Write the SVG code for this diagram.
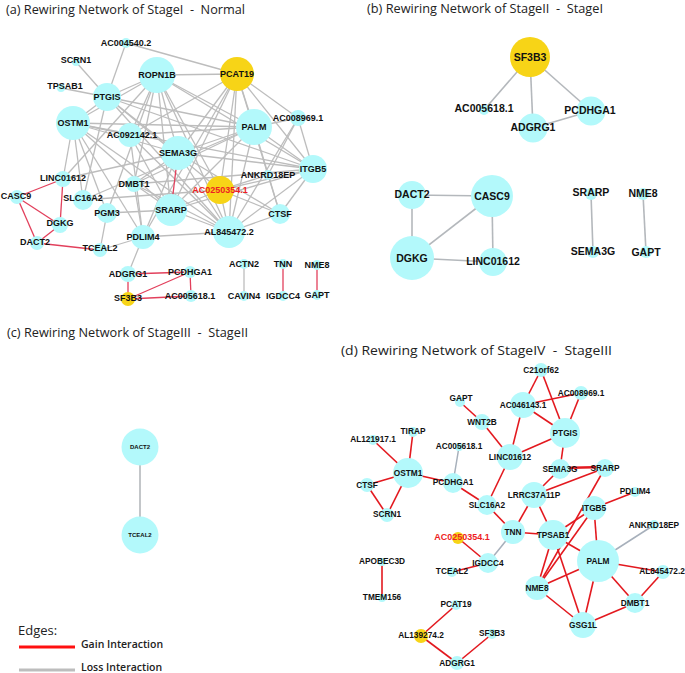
<svg xmlns="http://www.w3.org/2000/svg" width="685" height="673" viewBox="0 0 685 673">
<style>
.bg{fill:#ffffff}
.n{fill:#b3f9fb;stroke:none}
.y{fill:#f7d417;stroke:none}
.g{stroke:#bdbdbd;stroke-width:1.3;fill:none}
.gb{stroke:#b4b8bc;stroke-width:1.6;fill:none}
.gd{stroke:#a7b0bb;stroke-width:1.5;fill:none}
.r{stroke:#e2405c;stroke-width:1.3;fill:none}
.rd{stroke:#e3191f;stroke-width:1.6;fill:none}
text{font-family:"Liberation Sans",Arial,sans-serif;font-weight:bold;fill:#111;text-anchor:middle}
.la{font-size:9px}
.lb{font-size:10.5px}
.lc{font-size:6px}
.ld{font-size:8.3px}
.red{fill:#ee1c24}
.title{font-family:"Open Sans","Noto Sans",sans-serif;font-weight:normal;font-size:12.5px;text-anchor:start;fill:#222}
.leg{font-family:"Open Sans","Noto Sans",sans-serif;text-anchor:start;fill:#222}
</style>
<rect class="bg" x="0" y="0" width="685" height="673"/>

<g id="titles">
<text class="title" x="6" y="14" xml:space="preserve" textLength="239" lengthAdjust="spacingAndGlyphs">(a) Rewiring Network of StageI  -  Normal</text>
<text class="title" x="367" y="13" xml:space="preserve" textLength="236" lengthAdjust="spacingAndGlyphs">(b) Rewiring Network of StageII  -  StageI</text>
<text class="title" x="7" y="337" xml:space="preserve" textLength="241" lengthAdjust="spacingAndGlyphs">(c) Rewiring Network of StageIII  -  StageII</text>
<text class="title" x="341" y="355" xml:space="preserve" textLength="271" lengthAdjust="spacingAndGlyphs">(d) Rewiring Network of StageIV  -  StageIII</text>
</g>

<!-- Panel (a) connectors -->
<g id="edges-a">
<line class="g" x1="126" y1="43" x2="107" y2="97"/>
<line class="g" x1="126" y1="43" x2="237" y2="74"/>
<line class="g" x1="76" y1="62" x2="107" y2="97"/>
<line class="g" x1="61" y1="88" x2="107" y2="97"/>
<line class="g" x1="107" y1="97" x2="157" y2="75"/>
<line class="g" x1="157" y1="75" x2="237" y2="74"/>
<line class="g" x1="73" y1="123" x2="107" y2="97"/>
<line class="g" x1="73" y1="123" x2="157" y2="75"/>
<line class="g" x1="73" y1="123" x2="254" y2="127"/>
<line class="g" x1="73" y1="123" x2="313" y2="169"/>
<line class="g" x1="73" y1="123" x2="178" y2="153"/>
<line class="g" x1="73" y1="123" x2="171" y2="210"/>
<line class="g" x1="73" y1="123" x2="229" y2="232"/>
<line class="g" x1="73" y1="123" x2="63" y2="179"/>
<line class="g" x1="73" y1="123" x2="83" y2="200"/>
<line class="g" x1="73" y1="123" x2="143" y2="237"/>
<line class="g" x1="73" y1="123" x2="130" y2="135"/>
<line class="g" x1="73" y1="123" x2="107" y2="213"/>
<line class="g" x1="107" y1="97" x2="254" y2="127"/>
<line class="g" x1="107" y1="97" x2="313" y2="169"/>
<line class="g" x1="107" y1="97" x2="178" y2="153"/>
<line class="g" x1="107" y1="97" x2="220" y2="190"/>
<line class="g" x1="107" y1="97" x2="229" y2="232"/>
<line class="g" x1="107" y1="97" x2="83" y2="200"/>
<line class="g" x1="157" y1="75" x2="313" y2="169"/>
<line class="g" x1="157" y1="75" x2="178" y2="153"/>
<line class="g" x1="157" y1="75" x2="171" y2="210"/>
<line class="g" x1="157" y1="75" x2="229" y2="232"/>
<line class="g" x1="157" y1="75" x2="254" y2="127"/>
<line class="g" x1="157" y1="75" x2="134" y2="184"/>
<line class="g" x1="157" y1="75" x2="107" y2="213"/>
<line class="g" x1="157" y1="75" x2="220" y2="190"/>
<line class="g" x1="157" y1="75" x2="63" y2="179"/>
<line class="g" x1="157" y1="75" x2="130" y2="135"/>
<line class="g" x1="237" y1="74" x2="254" y2="127"/>
<line class="g" x1="237" y1="74" x2="313" y2="169"/>
<line class="g" x1="237" y1="74" x2="178" y2="153"/>
<line class="g" x1="237" y1="74" x2="171" y2="210"/>
<line class="g" x1="237" y1="74" x2="229" y2="232"/>
<line class="g" x1="237" y1="74" x2="220" y2="190"/>
<line class="g" x1="237" y1="74" x2="143" y2="237"/>
<line class="g" x1="237" y1="74" x2="130" y2="135"/>
<line class="g" x1="237" y1="74" x2="268" y2="175"/>
<line class="g" x1="237" y1="74" x2="298" y2="118"/>
<line class="g" x1="254" y1="127" x2="298" y2="118"/>
<line class="g" x1="254" y1="127" x2="313" y2="169"/>
<line class="g" x1="254" y1="127" x2="178" y2="153"/>
<line class="g" x1="254" y1="127" x2="229" y2="232"/>
<line class="g" x1="254" y1="127" x2="280" y2="214"/>
<line class="g" x1="254" y1="127" x2="83" y2="200"/>
<line class="g" x1="254" y1="127" x2="130" y2="135"/>
<line class="g" x1="254" y1="127" x2="171" y2="210"/>
<line class="g" x1="254" y1="127" x2="134" y2="184"/>
<line class="g" x1="298" y1="118" x2="313" y2="169"/>
<line class="g" x1="298" y1="118" x2="229" y2="232"/>
<line class="g" x1="298" y1="118" x2="268" y2="175"/>
<line class="g" x1="313" y1="169" x2="178" y2="153"/>
<line class="g" x1="313" y1="169" x2="280" y2="214"/>
<line class="g" x1="313" y1="169" x2="229" y2="232"/>
<line class="g" x1="313" y1="169" x2="134" y2="184"/>
<line class="g" x1="313" y1="169" x2="220" y2="190"/>
<line class="g" x1="313" y1="169" x2="171" y2="210"/>
<line class="g" x1="178" y1="153" x2="229" y2="232"/>
<line class="g" x1="178" y1="153" x2="143" y2="237"/>
<line class="g" x1="178" y1="153" x2="63" y2="179"/>
<line class="g" x1="178" y1="153" x2="134" y2="184"/>
<line class="g" x1="178" y1="153" x2="280" y2="214"/>
<line class="g" x1="220" y1="190" x2="229" y2="232"/>
<line class="g" x1="220" y1="190" x2="171" y2="210"/>
<line class="g" x1="220" y1="190" x2="83" y2="200"/>
<line class="g" x1="220" y1="190" x2="268" y2="175"/>
<line class="g" x1="220" y1="190" x2="280" y2="214"/>
<line class="g" x1="229" y1="232" x2="171" y2="210"/>
<line class="g" x1="229" y1="232" x2="134" y2="184"/>
<line class="g" x1="229" y1="232" x2="143" y2="237"/>
<line class="g" x1="229" y1="232" x2="280" y2="214"/>
<line class="g" x1="130" y1="135" x2="143" y2="237"/>
<line class="g" x1="130" y1="135" x2="171" y2="210"/>
<line class="g" x1="130" y1="135" x2="229" y2="232"/>
<line class="g" x1="134" y1="184" x2="143" y2="237"/>
<line class="g" x1="134" y1="184" x2="171" y2="210"/>
<line class="g" x1="107" y1="213" x2="171" y2="210"/>
<line class="g" x1="107" y1="213" x2="100" y2="250"/>
<line class="g" x1="143" y1="237" x2="100" y2="250"/>
<line class="g" x1="143" y1="237" x2="128" y2="274"/>
<line class="g" x1="268" y1="175" x2="280" y2="214"/>
<line class="g" x1="244" y1="264" x2="244" y2="296"/>
<line class="r" x1="17" y1="197" x2="63" y2="179"/>
<line class="r" x1="17" y1="197" x2="60" y2="225"/>
<line class="r" x1="17" y1="197" x2="37" y2="243"/>
<line class="r" x1="37" y1="243" x2="60" y2="225"/>
<line class="r" x1="63" y1="179" x2="60" y2="225"/>
<line class="r" x1="37" y1="243" x2="100" y2="250"/>
<line class="r" x1="178" y1="153" x2="171" y2="210"/>
<line class="r" x1="128" y1="274" x2="128" y2="299"/>
<line class="r" x1="128" y1="274" x2="190" y2="272"/>
<line class="r" x1="128" y1="299" x2="190" y2="272"/>
<line class="r" x1="128" y1="299" x2="191" y2="296"/>
<line class="r" x1="190" y1="272" x2="191" y2="296"/>
<line class="r" x1="283" y1="264" x2="283" y2="296"/>
<line class="r" x1="317" y1="265" x2="317" y2="295"/>
</g>

<!-- Panel (a) nodes -->
<g id="a-AC004540.2"><circle class="n" cx="126" cy="43" r="5"/><text class="la" x="126" y="46">AC004540.2</text></g>
<g id="a-SCRN1"><circle class="n" cx="76" cy="62" r="4"/><text class="la" x="76" y="63">SCRN1</text></g>
<g id="a-TPSAB1"><circle class="n" cx="61" cy="88" r="4"/><text class="la" x="65" y="89">TPSAB1</text></g>
<g id="a-ROPN1B"><circle class="n" cx="157" cy="75" r="18"/><text class="la" x="157" y="78">ROPN1B</text></g>
<g id="a-PTGIS"><circle class="n" cx="107" cy="97" r="14"/><text class="la" x="107" y="100">PTGIS</text></g>
<g id="a-OSTM1"><circle class="n" cx="73" cy="123" r="17"/><text class="la" x="73" y="126">OSTM1</text></g>
<g id="a-PCAT19"><circle class="y" cx="237" cy="74" r="17"/><text class="la" x="237" y="77">PCAT19</text></g>
<g id="a-PALM"><circle class="n" cx="254" cy="127" r="18"/><text class="la" x="254" y="130">PALM</text></g>
<g id="a-AC092142.1"><circle class="n" cx="130" cy="135" r="12"/><text class="la" x="132" y="138">AC092142.1</text></g>
<g id="a-AC008969.1"><circle class="n" cx="298" cy="118" r="8"/><text class="la" x="298" y="121">AC008969.1</text></g>
<g id="a-SEMA3G"><circle class="n" cx="178" cy="153" r="17"/><text class="la" x="178" y="156">SEMA3G</text></g>
<g id="a-ITGB5"><circle class="n" cx="313" cy="169" r="14"/><text class="la" x="313" y="172">ITGB5</text></g>
<g id="a-ANKRD18EP"><circle class="n" cx="268" cy="175" r="5"/><text class="la" x="268" y="178">ANKRD18EP</text></g>
<g id="a-AC0250354.1"><circle class="y" cx="220" cy="190" r="14"/><text class="la red" x="220" y="193">AC0250354.1</text></g>
<g id="a-CTSF"><circle class="n" cx="280" cy="214" r="10"/><text class="la" x="280" y="217">CTSF</text></g>
<g id="a-AL845472.2"><circle class="n" cx="229" cy="232" r="16"/><text class="la" x="229" y="235">AL845472.2</text></g>
<g id="a-SRARP"><circle class="n" cx="171" cy="210" r="16"/><text class="la" x="171" y="213">SRARP</text></g>
<g id="a-DMBT1"><circle class="n" cx="134" cy="184" r="8"/><text class="la" x="134" y="187">DMBT1</text></g>
<g id="a-LINC01612"><circle class="n" cx="63" cy="179" r="8"/><text class="la" x="63" y="181">LINC01612</text></g>
<g id="a-SLC16A2"><circle class="n" cx="83" cy="200" r="10"/><text class="la" x="83" y="201">SLC16A2</text></g>
<g id="a-PGM3"><circle class="n" cx="107" cy="213" r="10"/><text class="la" x="107" y="216">PGM3</text></g>
<g id="a-PDLIM4"><circle class="n" cx="143" cy="237" r="12"/><text class="la" x="143" y="240">PDLIM4</text></g>
<g id="a-TCEAL2"><circle class="n" cx="100" cy="250" r="7"/><text class="la" x="100" y="251">TCEAL2</text></g>
<g id="a-DGKG"><circle class="n" cx="60" cy="225" r="8"/><text class="la" x="60" y="226">DGKG</text></g>
<g id="a-CASC9"><circle class="n" cx="17" cy="197" r="7"/><text class="la" x="16" y="199">CASC9</text></g>
<g id="a-DACT2"><circle class="n" cx="37" cy="243" r="7"/><text class="la" x="35" y="245">DACT2</text></g>
<g id="a-ADGRG1"><circle class="n" cx="128" cy="274" r="8"/><text class="la" x="128" y="277">ADGRG1</text></g>
<g id="a-SF3B3"><circle class="y" cx="128" cy="299" r="7"/><text class="la" x="128" y="301">SF3B3</text></g>
<g id="a-PCDHGA1"><circle class="n" cx="190" cy="272" r="6"/><text class="la" x="190" y="275">PCDHGA1</text></g>
<g id="a-AC005618.1"><circle class="n" cx="191" cy="296" r="6"/><text class="la" x="190" y="299">AC005618.1</text></g>
<g id="a-ACTN2"><circle class="n" cx="244" cy="264" r="5"/><text class="la" x="244" y="267">ACTN2</text></g>
<g id="a-CAVIN4"><circle class="n" cx="244" cy="296" r="5"/><text class="la" x="244" y="299">CAVIN4</text></g>
<g id="a-TNN"><circle class="n" cx="283" cy="264" r="5"/><text class="la" x="283" y="267">TNN</text></g>
<g id="a-IGDCC4"><circle class="n" cx="283" cy="296" r="5"/><text class="la" x="283" y="299">IGDCC4</text></g>
<g id="a-NME8"><circle class="n" cx="317" cy="265" r="5"/><text class="la" x="317" y="268">NME8</text></g>
<g id="a-GAPT"><circle class="n" cx="317" cy="295" r="5"/><text class="la" x="317" y="298">GAPT</text></g>

<!-- Panel (b) connectors -->
<g id="edges-b">
<line class="gb" x1="530" y1="57" x2="484" y2="110"/>
<line class="gb" x1="530" y1="57" x2="533" y2="128"/>
<line class="gb" x1="530" y1="57" x2="591" y2="111"/>
<line class="gb" x1="533" y1="128" x2="591" y2="111"/>
<line class="gb" x1="412" y1="195" x2="492" y2="196"/>
<line class="gb" x1="412" y1="195" x2="412" y2="258"/>
<line class="gb" x1="492" y1="196" x2="412" y2="258"/>
<line class="gb" x1="492" y1="196" x2="493" y2="262"/>
<line class="gb" x1="412" y1="258" x2="493" y2="262"/>
<line class="gb" x1="591" y1="194" x2="593" y2="252"/>
<line class="gb" x1="643" y1="194" x2="646" y2="252"/>
</g>
<g id="b-SF3B3"><circle class="y" cx="530" cy="57" r="20"/><text class="lb" x="530" y="61">SF3B3</text></g>
<g id="b-AC005618.1"><circle class="n" cx="484" cy="110" r="5"/><text class="lb" x="484" y="112">AC005618.1</text></g>
<g id="b-ADGRG1"><circle class="n" cx="533" cy="128" r="14.5"/><text class="lb" x="533" y="131">ADGRG1</text></g>
<g id="b-PCDHGA1"><circle class="n" cx="591" cy="111" r="14.5"/><text class="lb" x="590" y="114">PCDHGA1</text></g>
<g id="b-DACT2"><circle class="n" cx="412" cy="195" r="14"/><text class="lb" x="412" y="198">DACT2</text></g>
<g id="b-CASC9"><circle class="n" cx="492" cy="196" r="21"/><text class="lb" x="492" y="200">CASC9</text></g>
<g id="b-DGKG"><circle class="n" cx="412" cy="258" r="22"/><text class="lb" x="412" y="262">DGKG</text></g>
<g id="b-LINC01612"><circle class="n" cx="493" cy="262" r="14"/><text class="lb" x="493" y="265">LINC01612</text></g>
<g id="b-SRARP"><circle class="n" cx="591" cy="194" r="6"/><text class="lb" x="591" y="196">SRARP</text></g>
<g id="b-SEMA3G"><circle class="n" cx="593" cy="252" r="6"/><text class="lb" x="593" y="255">SEMA3G</text></g>
<g id="b-NME8"><circle class="n" cx="643" cy="194" r="6"/><text class="lb" x="643" y="197">NME8</text></g>
<g id="b-GAPT"><circle class="n" cx="646" cy="252" r="6"/><text class="lb" x="646" y="256">GAPT</text></g>

<!-- Panel (c) -->
<g id="edges-c">
<line class="gb" x1="140" y1="447" x2="140" y2="535"/>
</g>
<g id="c-DACT2"><circle class="n" cx="140" cy="447" r="18.5"/><text class="lc" x="140" y="449">DACT2</text></g>
<g id="c-TCEAL2"><circle class="n" cx="140" cy="535" r="18.5"/><text class="lc" x="140" y="537">TCEAL2</text></g>

<!-- Panel (d) connectors -->
<g id="edges-d">
<line class="rd" x1="460" y1="402" x2="482" y2="422"/>
<line class="rd" x1="482" y1="422" x2="510" y2="457"/>
<line class="rd" x1="523" y1="405" x2="510" y2="457"/>
<line class="rd" x1="523" y1="405" x2="541" y2="370"/>
<line class="rd" x1="523" y1="405" x2="581" y2="393"/>
<line class="rd" x1="523" y1="405" x2="565" y2="433"/>
<line class="rd" x1="541" y1="370" x2="565" y2="433"/>
<line class="rd" x1="581" y1="393" x2="565" y2="433"/>
<line class="rd" x1="565" y1="433" x2="510" y2="457"/>
<line class="rd" x1="565" y1="433" x2="560" y2="469"/>
<line class="rd" x1="560" y1="468" x2="605" y2="467" style="stroke-width:2.6"/>
<line class="rd" x1="560" y1="469" x2="534" y2="495"/>
<line class="rd" x1="605" y1="468" x2="534" y2="495"/>
<line class="rd" x1="605" y1="468" x2="537" y2="588"/>
<line class="rd" x1="510" y1="457" x2="487" y2="505"/>
<line class="rd" x1="453" y1="483" x2="487" y2="505"/>
<line class="rd" x1="408" y1="473" x2="453" y2="483"/>
<line class="rd" x1="408" y1="473" x2="413" y2="432"/>
<line class="rd" x1="408" y1="473" x2="373" y2="440"/>
<line class="rd" x1="408" y1="473" x2="367" y2="485"/>
<line class="rd" x1="408" y1="473" x2="387" y2="515"/>
<line class="rd" x1="367" y1="485" x2="387" y2="515"/>
<line class="rd" x1="487" y1="505" x2="513" y2="532"/>
<line class="rd" x1="458" y1="538" x2="488" y2="563"/>
<line class="rd" x1="452" y1="572" x2="488" y2="563"/>
<line class="rd" x1="513" y1="532" x2="534" y2="495"/>
<line class="rd" x1="513" y1="532" x2="553" y2="535"/>
<line class="rd" x1="534" y1="495" x2="553" y2="535"/>
<line class="rd" x1="553" y1="535" x2="594" y2="508"/>
<line class="rd" x1="594" y1="508" x2="537" y2="588"/>
<line class="rd" x1="594" y1="508" x2="635" y2="492"/>
<line class="rd" x1="553" y1="535" x2="598" y2="561"/>
<line class="rd" x1="553" y1="535" x2="537" y2="588"/>
<line class="rd" x1="553" y1="535" x2="583" y2="625"/>
<line class="rd" x1="598" y1="561" x2="537" y2="588"/>
<line class="rd" x1="598" y1="561" x2="583" y2="625"/>
<line class="rd" x1="598" y1="561" x2="594" y2="508"/>
<line class="rd" x1="598" y1="561" x2="663" y2="572"/>
<line class="rd" x1="598" y1="561" x2="635" y2="603"/>
<line class="rd" x1="663" y1="572" x2="635" y2="603"/>
<line class="rd" x1="635" y1="603" x2="583" y2="625"/>
<line class="rd" x1="537" y1="588" x2="583" y2="625"/>
<line class="rd" x1="382" y1="562" x2="382" y2="598"/>
<line class="rd" x1="456" y1="605" x2="421" y2="636"/>
<line class="rd" x1="421" y1="636" x2="457" y2="663"/>
<line class="rd" x1="457" y1="663" x2="492" y2="634"/>
<line class="gd" x1="459" y1="447" x2="453" y2="483"/>
<line class="gd" x1="513" y1="532" x2="488" y2="563"/>
<line class="gd" x1="598" y1="561" x2="654" y2="525"/>
</g>

<!-- Panel (d) nodes -->
<g id="d-GAPT"><circle class="n" cx="460" cy="402" r="5"/><text class="ld" x="461" y="401">GAPT</text></g>
<g id="d-WNT2B"><circle class="n" cx="482" cy="422" r="8"/><text class="ld" x="482" y="425">WNT2B</text></g>
<g id="d-AC046143.1"><circle class="n" cx="523" cy="405" r="13"/><text class="ld" x="523" y="408">AC046143.1</text></g>
<g id="d-C21orf62"><circle class="n" cx="541" cy="370" r="7"/><text class="ld" x="541" y="373">C21orf62</text></g>
<g id="d-AC008969.1"><circle class="n" cx="581" cy="393" r="7"/><text class="ld" x="581" y="396">AC008969.1</text></g>
<g id="d-PTGIS"><circle class="n" cx="565" cy="433" r="15"/><text class="ld" x="565" y="436">PTGIS</text></g>
<g id="d-LINC01612"><circle class="n" cx="510" cy="457" r="13"/><text class="ld" x="510" y="460">LINC01612</text></g>
<g id="d-SEMA3G"><circle class="n" cx="560" cy="469" r="10"/><text class="ld" x="560" y="472">SEMA3G</text></g>
<g id="d-SRARP"><circle class="n" cx="605" cy="468" r="9"/><text class="ld" x="605" y="471">SRARP</text></g>
<g id="d-LRRC37A11P"><circle class="n" cx="534" cy="495" r="13"/><text class="ld" x="534" y="498">LRRC37A11P</text></g>
<g id="d-ITGB5"><circle class="n" cx="594" cy="508" r="12"/><text class="ld" x="594" y="511">ITGB5</text></g>
<g id="d-PDLIM4"><circle class="n" cx="635" cy="492" r="5"/><text class="ld" x="635" y="494">PDLIM4</text></g>
<g id="d-ANKRD18EP"><circle class="n" cx="654" cy="525" r="5"/><text class="ld" x="654" y="528">ANKRD18EP</text></g>
<g id="d-TNN"><circle class="n" cx="513" cy="532" r="12"/><text class="ld" x="513" y="535">TNN</text></g>
<g id="d-TPSAB1"><circle class="n" cx="553" cy="535" r="15"/><text class="ld" x="553" y="538">TPSAB1</text></g>
<g id="d-PALM"><circle class="n" cx="598" cy="561" r="21"/><text class="ld" x="598" y="564">PALM</text></g>
<g id="d-NME8"><circle class="n" cx="537" cy="588" r="12"/><text class="ld" x="537" y="591">NME8</text></g>
<g id="d-AL845472.2"><circle class="n" cx="663" cy="572" r="7"/><text class="ld" x="662" y="574">AL845472.2</text></g>
<g id="d-DMBT1"><circle class="n" cx="635" cy="603" r="10"/><text class="ld" x="635" y="606">DMBT1</text></g>
<g id="d-GSG1L"><circle class="n" cx="583" cy="625" r="13"/><text class="ld" x="583" y="628">GSG1L</text></g>
<g id="d-SLC16A2"><circle class="n" cx="487" cy="505" r="10"/><text class="ld" x="487" y="508">SLC16A2</text></g>
<g id="d-IGDCC4"><circle class="n" cx="488" cy="563" r="10"/><text class="ld" x="488" y="566">IGDCC4</text></g>
<g id="d-TCEAL2"><circle class="n" cx="452" cy="572" r="5"/><text class="ld" x="452" y="574">TCEAL2</text></g>
<g id="d-AC0250354.1"><circle class="y" cx="458" cy="538" r="6"/><text class="la red" x="462" y="540">AC0250354.1</text></g>
<g id="d-APOBEC3D"><circle class="n" cx="382" cy="562" r="4"/><text class="ld" x="382" y="564">APOBEC3D</text></g>
<g id="d-TMEM156"><circle class="n" cx="382" cy="598" r="4"/><text class="ld" x="382" y="600">TMEM156</text></g>
<g id="d-PCAT19"><circle class="n" cx="456" cy="605" r="5"/><text class="ld" x="456" y="607">PCAT19</text></g>
<g id="d-AL139274.2"><circle class="y" cx="421" cy="636" r="7"/><text class="ld" x="421" y="638">AL139274.2</text></g>
<g id="d-SF3B3"><circle class="n" cx="492" cy="634" r="5"/><text class="ld" x="492" y="636">SF3B3</text></g>
<g id="d-ADGRG1"><circle class="n" cx="457" cy="663" r="7"/><text class="ld" x="457" y="666">ADGRG1</text></g>
<g id="d-OSTM1"><circle class="n" cx="408" cy="473" r="15"/><text class="ld" x="408" y="476">OSTM1</text></g>
<g id="d-TIRAP"><circle class="n" cx="413" cy="432" r="5"/><text class="ld" x="413" y="434">TIRAP</text></g>
<g id="d-AL121917.1"><circle class="n" cx="373" cy="440" r="5"/><text class="ld" x="373" y="442">AL121917.1</text></g>
<g id="d-CTSF"><circle class="n" cx="367" cy="485" r="7"/><text class="ld" x="367" y="488">CTSF</text></g>
<g id="d-SCRN1"><circle class="n" cx="387" cy="515" r="7"/><text class="ld" x="387" y="517">SCRN1</text></g>
<g id="d-AC005618.1"><circle class="n" cx="459" cy="447" r="4"/><text class="ld" x="459" y="449">AC005618.1</text></g>
<g id="d-PCDHGA1"><circle class="n" cx="453" cy="483" r="10"/><text class="ld" x="453" y="485">PCDHGA1</text></g>

<!-- Legend -->
<g id="legend">
<text class="leg" x="18" y="635" style="font-size:13px;font-weight:normal">Edges:</text>
<line x1="19" y1="647" x2="75" y2="647" style="stroke:#ff1010;stroke-width:3"/>
<text class="leg" x="81" y="648" style="font-size:10.5px;font-weight:600">Gain Interaction</text>
<line x1="19" y1="670" x2="75" y2="670" style="stroke:#bdbdbd;stroke-width:3"/>
<text class="leg" x="81" y="671" style="font-size:10.5px;font-weight:600">Loss Interaction</text>
</g>
</svg>
